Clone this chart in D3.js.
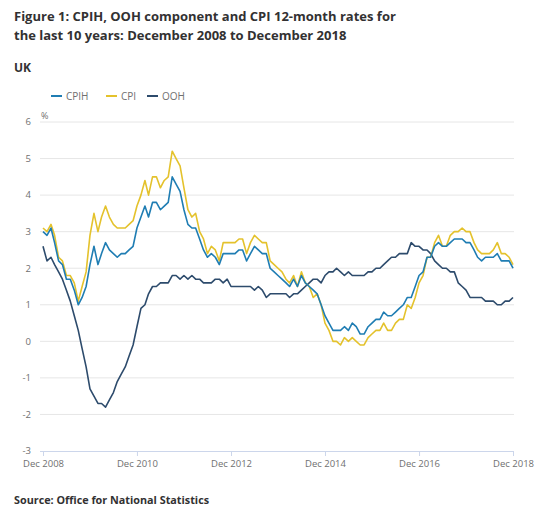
<!DOCTYPE html>
<html>
<head>
<meta charset="utf-8">
<script src="https://cdn.jsdelivr.net/npm/d3@7"></script>
<style>
  body { margin: 0; background: #fff; }
  text { font-family: "Open Sans", sans-serif; }
</style>
</head>
<body>
<div id="container"></div>
<script>
// 12-month rates, Dec 2008 .. Dec 2018 (121 months)
const cpih = [
  3.0,
  2.9, 3.1, 2.7, 2.2, 2.1, 1.7, 1.7, 1.4, 1.0, 1.2, 1.5, 2.1,
  2.6, 2.1, 2.4, 2.7, 2.5, 2.4, 2.3, 2.4, 2.4, 2.5, 2.6, 3.1,
  3.4, 3.7, 3.4, 3.8, 3.8, 3.6, 3.7, 3.8, 4.5, 4.3, 4.1, 3.6,
  3.2, 3.1, 3.1, 2.8, 2.5, 2.3, 2.4, 2.3, 2.1, 2.4, 2.4, 2.4,
  2.4, 2.5, 2.5, 2.2, 2.4, 2.6, 2.5, 2.4, 2.4, 2.0, 1.9, 1.8,
  1.7, 1.6, 1.5, 1.7, 1.5, 1.8, 1.6, 1.5, 1.4, 1.3, 1.0, 0.7,
  0.5, 0.3, 0.3, 0.3, 0.4, 0.3, 0.5, 0.4, 0.2, 0.2, 0.4, 0.5,
  0.6, 0.6, 0.8, 0.7, 0.7, 0.8, 0.9, 1.0, 1.2, 1.2, 1.5, 1.8,
  1.9, 2.3, 2.3, 2.6, 2.7, 2.6, 2.6, 2.7, 2.8, 2.8, 2.8, 2.7,
  2.7, 2.5, 2.3, 2.2, 2.3, 2.3, 2.3, 2.4, 2.2, 2.2, 2.2, 2.0
]
const cpi = [
  3.1,
  3.0, 3.2, 2.9, 2.3, 2.2, 1.8, 1.8, 1.6, 1.1, 1.5, 1.9, 2.9,
  3.5, 3.0, 3.4, 3.7, 3.4, 3.2, 3.1, 3.1, 3.1, 3.2, 3.3, 3.7,
  4.0, 4.4, 4.0, 4.5, 4.5, 4.2, 4.4, 4.5, 5.2, 5.0, 4.8, 4.2,
  3.6, 3.4, 3.5, 3.0, 2.8, 2.4, 2.6, 2.5, 2.2, 2.7, 2.7, 2.7,
  2.7, 2.8, 2.8, 2.4, 2.7, 2.9, 2.8, 2.7, 2.7, 2.2, 2.1, 2.0,
  1.9, 1.7, 1.6, 1.8, 1.5, 1.9, 1.6, 1.5, 1.2, 1.3, 1.0, 0.5,
  0.3, 0.0, 0.0, -0.1, 0.1, 0.0, 0.1, 0.0, -0.1, -0.1, 0.1, 0.2,
  0.3, 0.3, 0.5, 0.3, 0.3, 0.5, 0.6, 0.6, 1.0, 0.9, 1.2, 1.6,
  1.8, 2.3, 2.3, 2.7, 2.9, 2.6, 2.6, 2.9, 3.0, 3.0, 3.1, 3.0,
  3.0, 2.7, 2.5, 2.4, 2.4, 2.4, 2.5, 2.7, 2.4, 2.4, 2.3, 2.1
]
const ooh = [
  2.6,
  2.2, 2.3, 2.1, 1.9, 1.7, 1.4, 1.1, 0.7, 0.3, -0.2, -0.7, -1.3,
  -1.5, -1.7, -1.7, -1.8, -1.6, -1.4, -1.1, -0.9, -0.7, -0.4, -0.1, 0.4,
  0.9, 1.0, 1.3, 1.5, 1.5, 1.6, 1.6, 1.6, 1.8, 1.8, 1.7, 1.8,
  1.7, 1.8, 1.7, 1.7, 1.6, 1.6, 1.6, 1.7, 1.7, 1.6, 1.7, 1.5,
  1.5, 1.5, 1.5, 1.5, 1.5, 1.4, 1.5, 1.4, 1.2, 1.3, 1.3, 1.3,
  1.3, 1.3, 1.2, 1.3, 1.3, 1.4, 1.5, 1.6, 1.7, 1.7, 1.6, 1.8,
  1.9, 1.9, 2.0, 1.9, 1.8, 1.9, 1.8, 1.8, 1.8, 1.8, 1.9, 1.9,
  2.0, 2.0, 2.1, 2.2, 2.3, 2.3, 2.4, 2.4, 2.4, 2.7, 2.6, 2.6,
  2.5, 2.5, 2.4, 2.2, 2.1, 2.0, 2.0, 1.9, 1.9, 1.6, 1.5, 1.4,
  1.2, 1.2, 1.2, 1.2, 1.1, 1.1, 1.1, 1.0, 1.0, 1.1, 1.1, 1.2
]
const seriesNames = ["CPIH", "CPI", "OOH"]
const seriesColors = ["#1f7db3", "#e4c22c", "#2d4b6c"]
const xTickLabels = ["Dec 2008", "Dec 2010", "Dec 2012", "Dec 2014", "Dec 2016", "Dec 2018"]
const yTicks = [-3, -2, -1, 0, 1, 2, 3, 4, 5, 6]

const months = d3.timeMonth.range(new Date(2008, 11, 1), new Date(2019, 0, 1))
// a labelled tick every 24 months, starting with Dec 2008
const xTickDates = months.filter((d, i) => i % 24 === 0)

const width = 540
const height = 517
const svg = d3.create("svg")
  .attr("width", width)
  .attr("height", height)
container.append(svg.node())

// titles
const title = svg.append("text")
  .attr("x", 14)
  .attr("y", 21)
  .style("font-size", "13px")
  .style("font-weight", "bold")
  .style("fill", "#323132")
title.append("tspan").attr("x", 14).text("Figure 1: CPIH, OOH component and CPI 12-month rates for")
title.append("tspan").attr("x", 14).attr("dy", 18.5).text("the last 10 years: December 2008 to December 2018")

svg.append("text")
  .attr("x", 14).attr("y", 72)
  .style("font-size", "12px").style("font-weight", "bold").style("fill", "#323132")
  .text("UK")

svg.append("text")
  .attr("x", 14).attr("y", 504)
  .style("font-size", "10.8px").style("font-weight", "bold").style("fill", "#323132")
  .text("Source: Office for National Statistics")

// scales
const x = d3.scaleTime()
  .domain([months[0], months[months.length - 1]])
  .range([43, 513])
const y = d3.scaleLinear()
  .domain([-3, 6])
  .range([451, 122])

// gridlines
svg.append("g")
  .selectAll("line")
  .data(yTicks.filter(d => d > -3))
  .join("line")
  .attr("x1", 40)
  .attr("x2", 514)
  .attr("y1", d => y(d))
  .attr("y2", d => y(d))
  .style("stroke", "#e6e6e6")
  .style("stroke-width", 1)

// y labels
svg.append("g")
  .selectAll("text")
  .data(yTicks)
  .join("text")
  .attr("x", 31)
  .attr("y", d => y(d))
  .attr("dy", "0.35em")
  .attr("text-anchor", "end")
  .style("font-size", "9.5px")
  .style("fill", "#707070")
  .text(d => d)

svg.append("text")
  .attr("x", 41).attr("y", 119)
  .style("font-size", "9px").style("fill", "#707070")
  .text("%")

// x axis
const xAxis = d3.axisBottom(x)
  .tickValues(xTickDates)
  .tickFormat((d, i) => xTickLabels[i])
  .tickSize(5)
  .tickPadding(4)
const gx = svg.append("g")
  .attr("transform", `translate(0,${y(-3)})`)
  .call(xAxis)
gx.select(".domain").attr("d", `M40,0.5H514`).style("stroke", "#ccd6eb")
gx.selectAll(".tick line").style("stroke", "#ccd6eb")
gx.selectAll(".tick text")
  .style("font-family", "'Open Sans', sans-serif")
  .style("font-size", "9.5px")
  .style("fill", "#707070")

// lines
const line = d3.line()
  .x((d, i) => x(months[i]))
  .y(d => y(d))
const allSeries = [cpih, cpi, ooh]
// draw OOH and CPI first so CPIH sits on top
const order = [2, 1, 0]
svg.append("g")
  .selectAll("path")
  .data(order)
  .join("path")
  .attr("d", k => line(allSeries[k]))
  .style("fill", "none")
  .style("stroke", k => seriesColors[k])
  .style("stroke-width", 1.6)
  .style("stroke-linejoin", "round")

// legend
const legendX = [51, 106, 147]
const legend = svg.append("g")
  .selectAll("g")
  .data(seriesNames)
  .join("g")
  .attr("transform", (d, i) => `translate(${legendX[i]},96)`)
legend.append("line")
  .attr("x1", 0).attr("x2", 11)
  .style("stroke", (d, i) => seriesColors[i])
  .style("stroke-width", 2)
legend.append("text")
  .attr("x", 15)
  .attr("dy", "0.35em")
  .style("font-size", "10px")
  .style("fill", "#707070")
  .text(d => d)
</script>
</body>
</html>
